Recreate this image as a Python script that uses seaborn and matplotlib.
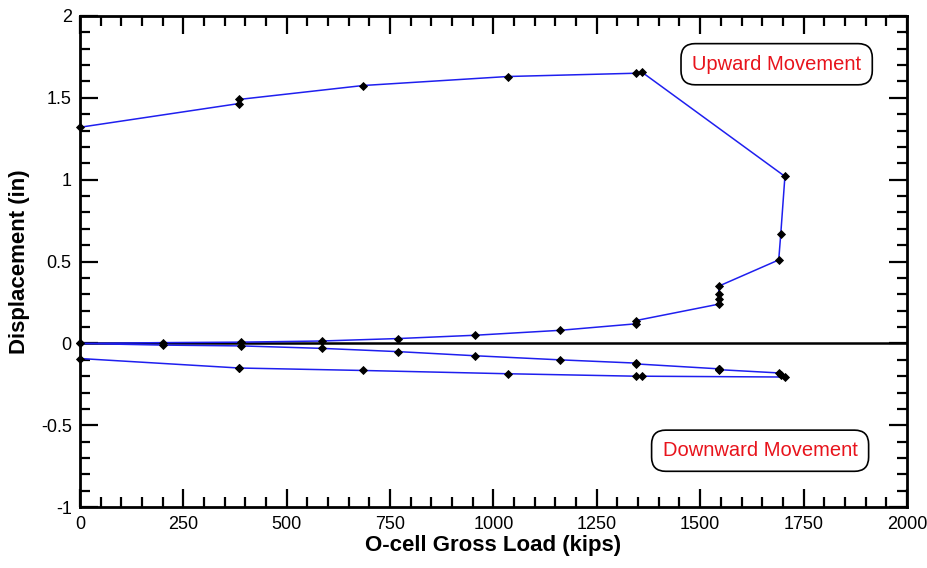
import matplotlib
matplotlib.use("Agg")
import matplotlib.pyplot as plt
from matplotlib.ticker import MultipleLocator
import seaborn as sns
import pandas as pd

# O-cell load test: gross load vs. upper/lower plate displacement
load_kips = [0, 200, 390, 585, 770, 955, 1160, 1345, 1345, 1545, 1545, 1545, 1545,
             1690, 1695, 1705, 1360, 1345, 1035, 685, 385, 385, 0]
upward_in = [0.0, 0.005, 0.008, 0.015, 0.03, 0.05, 0.08, 0.12, 0.14, 0.24, 0.27, 0.30, 0.35,
             0.51, 0.67, 1.02, 1.655, 1.65, 1.63, 1.575, 1.49, 1.465, 1.32]
downward_in = [0.0, -0.01, -0.015, -0.03, -0.05, -0.075, -0.10, -0.12, -0.125, -0.155, -0.155,
               -0.155, -0.16, -0.18, -0.19, -0.205, -0.20, -0.20, -0.185, -0.165, -0.15, -0.15,
               -0.092]

x_ticks = [0, 250, 500, 750, 1000, 1250, 1500, 1750, 2000]
y_ticks = [-1, -0.5, 0, 0.5, 1, 1.5, 2]
y_tick_labels = ["-1", "-0.5", "0", "0.5", "1", "1.5", "2"]

sns.set_style("ticks")
plt.rcParams["font.family"] = ["Liberation Sans", "DejaVu Sans"]
plt.rcParams["text.color"] = "black"
plt.rcParams["axes.labelcolor"] = "black"
plt.rcParams["xtick.color"] = "black"
plt.rcParams["ytick.color"] = "black"

df = pd.DataFrame({"load": load_kips, "up": upward_in, "down": downward_in})

fig = plt.figure(figsize=(9.27, 5.68), dpi=100)
ax = fig.add_axes([0.0863, 0.107, 0.892, 0.865])

line_kw = dict(sort=False, estimator=None, color="#1f1fef", linewidth=1.1,
               marker="D", markersize=4.2, markerfacecolor="black",
               markeredgecolor="black", markeredgewidth=0.6, clip_on=False, ax=ax)
sns.lineplot(data=df, x="load", y="up", **line_kw)
sns.lineplot(data=df, x="load", y="down", **line_kw)

ax.axhline(0, color="black", linewidth=1.8, zorder=1)

ax.set_xlim(0, 2000)
ax.set_ylim(-1, 2)
ax.set_xticks(x_ticks)
ax.set_xticklabels([str(v) for v in x_ticks])
ax.set_yticks(y_ticks)
ax.set_yticklabels(y_tick_labels)
ax.xaxis.set_minor_locator(MultipleLocator(50))
ax.yaxis.set_minor_locator(MultipleLocator(0.1))

ax.tick_params(which="both", direction="in", top=True, right=True, width=1.6,
               color="black", labelcolor="black", labelsize=13, pad=6)
ax.tick_params(which="major", length=13)
ax.tick_params(which="minor", length=7)
for side in ax.spines.values():
    side.set_linewidth(2.0)
    side.set_color("black")

ax.set_xlabel("O-cell Gross Load (kips)", fontsize=16, fontweight="bold",
              color="black", labelpad=2)
ax.set_ylabel("Displacement (in)", fontsize=16, fontweight="bold",
              color="black", labelpad=8)

box = dict(boxstyle="round,pad=0.55,rounding_size=0.7", facecolor="white",
           edgecolor="black", linewidth=1.2)
ax.text(1685, 1.705, "Upward Movement", color="#e8141c", fontsize=14.5,
        ha="center", va="center", bbox=box)
ax.text(1645, -0.655, "Downward Movement", color="#e8141c", fontsize=14.5,
        ha="center", va="center", bbox=box)

fig.savefig("out.png", dpi=100)
